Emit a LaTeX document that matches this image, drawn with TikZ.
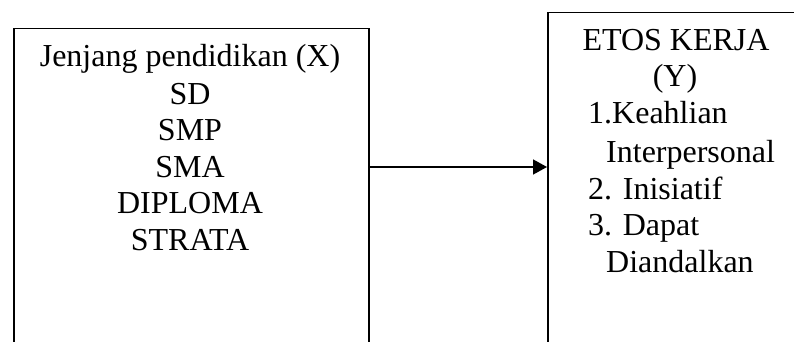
\documentclass[tikz,border=0pt]{standalone}
\usepackage{fontspec}
\setmainfont{Liberation Serif}
\usetikzlibrary{arrows.meta}
\begin{document}
\begin{tikzpicture}[x=1pt,y=1pt,
  boxst/.style={draw=black, line width=1.5pt, rectangle, inner sep=0pt},
  txt/.style={font=\fontsize{32}{37}\selectfont, inner sep=0pt},
  conn/.style={line width=1.6pt, -{Triangle[length=14pt,width=15pt]}}]
\useasboundingbox (0,0) rectangle (794,-342);
\node[boxst, anchor=north west, minimum width=355, minimum height=420] (xbox) at (13,-28) {};
\node[boxst, anchor=north west, minimum width=320, minimum height=420] (ybox) at (547,-12) {};
\node[txt, anchor=base] (x1) at (190,-67) {Jenjang pendidikan (X)};
\node[txt, anchor=base] (x2) at (190,-104) {SD};
\node[txt, anchor=base] (x3) at (190,-140) {SMP};
\node[txt, anchor=base] (x4) at (190,-177) {SMA};
\node[txt, anchor=base] (x5) at (190,-213) {DIPLOMA};
\node[txt, anchor=base] (x6) at (190,-250) {STRATA};
\node[txt, anchor=base] (y1) at (676,-51) {ETOS KERJA};
\node[txt, anchor=base] (y2) at (675,-87) {(Y)};
\node[txt, anchor=base west] (y3) at (588,-124) {1.Keahlian};
\node[txt, anchor=base west] (y4) at (606,-162) {Interpersonal};
\node[txt, anchor=base west] (y5) at (588,-199) {2. Inisiatif};
\node[txt, anchor=base west] (y6) at (588,-235) {3. Dapat};
\node[txt, anchor=base west] (y7) at (606,-272) {Diandalkan};
\coordinate (lvl) at (0,-167);
\draw[conn] (xbox.east |- lvl) -- (ybox.west |- lvl);
\end{tikzpicture}
\end{document}
